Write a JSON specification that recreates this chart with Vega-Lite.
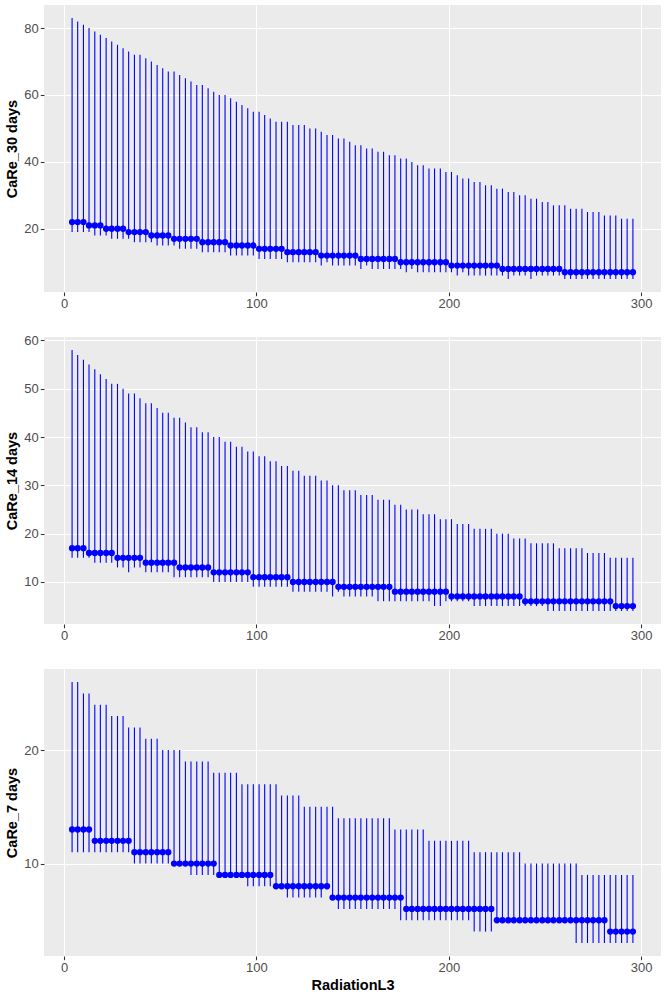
{
  "$schema": "https://vega.github.io/schema/vega-lite/v6.json",
  "padding": {"left": 4, "top": 5, "right": 5, "bottom": 0},
  "spacing": 45,
  "bounds": "flush",
  "data": {
    "values": [
      {"x": 4.2, "m30": 22, "l30": 19, "h30": 83, "m14": 17, "l14": 15, "h14": 58, "m7": 13, "l7": 11, "h7": 26},
      {"x": 7.1, "m30": 22, "l30": 19, "h30": 82, "m14": 17, "l14": 15, "h14": 57, "m7": 13, "l7": 11, "h7": 26},
      {"x": 10.1, "m30": 22, "l30": 19, "h30": 81, "m14": 17, "l14": 15, "h14": 56, "m7": 13, "l7": 11, "h7": 25},
      {"x": 13.0, "m30": 21, "l30": 19, "h30": 80, "m14": 16, "l14": 15, "h14": 55, "m7": 13, "l7": 11, "h7": 25},
      {"x": 16.0, "m30": 21, "l30": 18, "h30": 79, "m14": 16, "l14": 14, "h14": 54, "m7": 12, "l7": 11, "h7": 24},
      {"x": 18.9, "m30": 21, "l30": 18, "h30": 78, "m14": 16, "l14": 14, "h14": 53, "m7": 12, "l7": 11, "h7": 24},
      {"x": 21.9, "m30": 20, "l30": 18, "h30": 77, "m14": 16, "l14": 14, "h14": 52, "m7": 12, "l7": 11, "h7": 24},
      {"x": 24.8, "m30": 20, "l30": 17, "h30": 76, "m14": 16, "l14": 14, "h14": 51, "m7": 12, "l7": 11, "h7": 23},
      {"x": 27.8, "m30": 20, "l30": 17, "h30": 75, "m14": 15, "l14": 13, "h14": 51, "m7": 12, "l7": 11, "h7": 23},
      {"x": 30.7, "m30": 20, "l30": 17, "h30": 74, "m14": 15, "l14": 13, "h14": 50, "m7": 12, "l7": 11, "h7": 23},
      {"x": 33.6, "m30": 19, "l30": 17, "h30": 73, "m14": 15, "l14": 12, "h14": 49, "m7": 12, "l7": 11, "h7": 22},
      {"x": 36.6, "m30": 19, "l30": 16, "h30": 72, "m14": 15, "l14": 13, "h14": 49, "m7": 11, "l7": 10, "h7": 22},
      {"x": 39.5, "m30": 19, "l30": 16, "h30": 72, "m14": 15, "l14": 13, "h14": 48, "m7": 11, "l7": 10, "h7": 22},
      {"x": 42.5, "m30": 19, "l30": 16, "h30": 71, "m14": 14, "l14": 12, "h14": 47, "m7": 11, "l7": 10, "h7": 21},
      {"x": 45.4, "m30": 18, "l30": 16, "h30": 70, "m14": 14, "l14": 12, "h14": 47, "m7": 11, "l7": 10, "h7": 21},
      {"x": 48.4, "m30": 18, "l30": 15, "h30": 69, "m14": 14, "l14": 12, "h14": 46, "m7": 11, "l7": 10, "h7": 21},
      {"x": 51.3, "m30": 18, "l30": 15, "h30": 68, "m14": 14, "l14": 12, "h14": 45, "m7": 11, "l7": 10, "h7": 20},
      {"x": 54.2, "m30": 18, "l30": 15, "h30": 67, "m14": 14, "l14": 12, "h14": 45, "m7": 11, "l7": 10, "h7": 20},
      {"x": 57.2, "m30": 17, "l30": 15, "h30": 67, "m14": 14, "l14": 11, "h14": 44, "m7": 10, "l7": 10, "h7": 20},
      {"x": 60.1, "m30": 17, "l30": 14, "h30": 66, "m14": 13, "l14": 11, "h14": 44, "m7": 10, "l7": 10, "h7": 20},
      {"x": 63.1, "m30": 17, "l30": 14, "h30": 65, "m14": 13, "l14": 11, "h14": 43, "m7": 10, "l7": 10, "h7": 19},
      {"x": 66.0, "m30": 17, "l30": 14, "h30": 64, "m14": 13, "l14": 11, "h14": 42, "m7": 10, "l7": 9, "h7": 19},
      {"x": 69.0, "m30": 17, "l30": 14, "h30": 63, "m14": 13, "l14": 11, "h14": 42, "m7": 10, "l7": 9, "h7": 19},
      {"x": 71.9, "m30": 16, "l30": 13, "h30": 63, "m14": 13, "l14": 11, "h14": 41, "m7": 10, "l7": 9, "h7": 19},
      {"x": 74.9, "m30": 16, "l30": 13, "h30": 62, "m14": 13, "l14": 11, "h14": 41, "m7": 10, "l7": 9, "h7": 19},
      {"x": 77.8, "m30": 16, "l30": 13, "h30": 61, "m14": 12, "l14": 10, "h14": 40, "m7": 10, "l7": 9, "h7": 18},
      {"x": 80.7, "m30": 16, "l30": 13, "h30": 60, "m14": 12, "l14": 10, "h14": 40, "m7": 9, "l7": 9, "h7": 18},
      {"x": 83.7, "m30": 16, "l30": 13, "h30": 60, "m14": 12, "l14": 10, "h14": 39, "m7": 9, "l7": 9, "h7": 18},
      {"x": 86.6, "m30": 15, "l30": 12, "h30": 59, "m14": 12, "l14": 10, "h14": 39, "m7": 9, "l7": 9, "h7": 18},
      {"x": 89.6, "m30": 15, "l30": 12, "h30": 58, "m14": 12, "l14": 10, "h14": 38, "m7": 9, "l7": 9, "h7": 18},
      {"x": 92.5, "m30": 15, "l30": 12, "h30": 57, "m14": 12, "l14": 10, "h14": 38, "m7": 9, "l7": 9, "h7": 17},
      {"x": 95.5, "m30": 15, "l30": 12, "h30": 56, "m14": 12, "l14": 10, "h14": 37, "m7": 9, "l7": 8, "h7": 17},
      {"x": 98.4, "m30": 15, "l30": 12, "h30": 55, "m14": 11, "l14": 9, "h14": 37, "m7": 9, "l7": 8, "h7": 17},
      {"x": 101.4, "m30": 14, "l30": 11, "h30": 55, "m14": 11, "l14": 9, "h14": 36, "m7": 9, "l7": 8, "h7": 17},
      {"x": 104.3, "m30": 14, "l30": 11, "h30": 54, "m14": 11, "l14": 9, "h14": 36, "m7": 9, "l7": 8, "h7": 17},
      {"x": 107.2, "m30": 14, "l30": 11, "h30": 53, "m14": 11, "l14": 9, "h14": 35, "m7": 9, "l7": 8, "h7": 17},
      {"x": 110.2, "m30": 14, "l30": 11, "h30": 52, "m14": 11, "l14": 9, "h14": 35, "m7": 8, "l7": 8, "h7": 17},
      {"x": 113.1, "m30": 14, "l30": 11, "h30": 52, "m14": 11, "l14": 9, "h14": 34, "m7": 8, "l7": 8, "h7": 16},
      {"x": 116.1, "m30": 13, "l30": 10, "h30": 52, "m14": 11, "l14": 9, "h14": 34, "m7": 8, "l7": 7, "h7": 16},
      {"x": 119.0, "m30": 13, "l30": 10, "h30": 51, "m14": 10, "l14": 8, "h14": 33, "m7": 8, "l7": 7, "h7": 16},
      {"x": 122.0, "m30": 13, "l30": 10, "h30": 51, "m14": 10, "l14": 8, "h14": 33, "m7": 8, "l7": 7, "h7": 16},
      {"x": 124.9, "m30": 13, "l30": 10, "h30": 51, "m14": 10, "l14": 8, "h14": 32, "m7": 8, "l7": 7, "h7": 15},
      {"x": 127.8, "m30": 13, "l30": 10, "h30": 50, "m14": 10, "l14": 8, "h14": 32, "m7": 8, "l7": 7, "h7": 15},
      {"x": 130.8, "m30": 13, "l30": 10, "h30": 50, "m14": 10, "l14": 8, "h14": 32, "m7": 8, "l7": 7, "h7": 15},
      {"x": 133.7, "m30": 12, "l30": 9, "h30": 49, "m14": 10, "l14": 8, "h14": 31, "m7": 8, "l7": 7, "h7": 15},
      {"x": 136.7, "m30": 12, "l30": 10, "h30": 48, "m14": 10, "l14": 8, "h14": 31, "m7": 8, "l7": 8, "h7": 15},
      {"x": 139.6, "m30": 12, "l30": 9, "h30": 48, "m14": 10, "l14": 7, "h14": 30, "m7": 7, "l7": 7, "h7": 15},
      {"x": 142.6, "m30": 12, "l30": 9, "h30": 47, "m14": 9, "l14": 8, "h14": 30, "m7": 7, "l7": 6, "h7": 14},
      {"x": 145.5, "m30": 12, "l30": 9, "h30": 47, "m14": 9, "l14": 7, "h14": 29, "m7": 7, "l7": 6, "h7": 14},
      {"x": 148.5, "m30": 12, "l30": 9, "h30": 46, "m14": 9, "l14": 7, "h14": 29, "m7": 7, "l7": 6, "h7": 14},
      {"x": 151.4, "m30": 12, "l30": 9, "h30": 45, "m14": 9, "l14": 7, "h14": 29, "m7": 7, "l7": 6, "h7": 14},
      {"x": 154.3, "m30": 11, "l30": 8, "h30": 45, "m14": 9, "l14": 7, "h14": 28, "m7": 7, "l7": 6, "h7": 14},
      {"x": 157.3, "m30": 11, "l30": 9, "h30": 44, "m14": 9, "l14": 7, "h14": 28, "m7": 7, "l7": 6, "h7": 14},
      {"x": 160.2, "m30": 11, "l30": 8, "h30": 44, "m14": 9, "l14": 7, "h14": 28, "m7": 7, "l7": 6, "h7": 14},
      {"x": 163.2, "m30": 11, "l30": 8, "h30": 43, "m14": 9, "l14": 6, "h14": 27, "m7": 7, "l7": 6, "h7": 14},
      {"x": 166.1, "m30": 11, "l30": 8, "h30": 43, "m14": 9, "l14": 6, "h14": 27, "m7": 7, "l7": 6, "h7": 14},
      {"x": 169.1, "m30": 11, "l30": 8, "h30": 42, "m14": 9, "l14": 6, "h14": 27, "m7": 7, "l7": 6, "h7": 14},
      {"x": 172.0, "m30": 11, "l30": 8, "h30": 42, "m14": 8, "l14": 6, "h14": 26, "m7": 7, "l7": 6, "h7": 13},
      {"x": 175.0, "m30": 10, "l30": 8, "h30": 41, "m14": 8, "l14": 6, "h14": 26, "m7": 7, "l7": 5, "h7": 13},
      {"x": 177.9, "m30": 10, "l30": 7, "h30": 41, "m14": 8, "l14": 6, "h14": 25, "m7": 6, "l7": 5, "h7": 13},
      {"x": 180.8, "m30": 10, "l30": 8, "h30": 40, "m14": 8, "l14": 6, "h14": 25, "m7": 6, "l7": 5, "h7": 13},
      {"x": 183.8, "m30": 10, "l30": 7, "h30": 39, "m14": 8, "l14": 6, "h14": 25, "m7": 6, "l7": 5, "h7": 13},
      {"x": 186.7, "m30": 10, "l30": 7, "h30": 39, "m14": 8, "l14": 6, "h14": 24, "m7": 6, "l7": 5, "h7": 13},
      {"x": 189.7, "m30": 10, "l30": 7, "h30": 38, "m14": 8, "l14": 6, "h14": 24, "m7": 6, "l7": 5, "h7": 12},
      {"x": 192.6, "m30": 10, "l30": 7, "h30": 38, "m14": 8, "l14": 5, "h14": 24, "m7": 6, "l7": 5, "h7": 12},
      {"x": 195.6, "m30": 10, "l30": 7, "h30": 38, "m14": 8, "l14": 5, "h14": 23, "m7": 6, "l7": 5, "h7": 12},
      {"x": 198.5, "m30": 10, "l30": 7, "h30": 37, "m14": 8, "l14": 6, "h14": 23, "m7": 6, "l7": 5, "h7": 12},
      {"x": 201.4, "m30": 9, "l30": 7, "h30": 37, "m14": 7, "l14": 6, "h14": 23, "m7": 6, "l7": 5, "h7": 12},
      {"x": 204.4, "m30": 9, "l30": 6, "h30": 36, "m14": 7, "l14": 6, "h14": 22, "m7": 6, "l7": 5, "h7": 12},
      {"x": 207.3, "m30": 9, "l30": 7, "h30": 35, "m14": 7, "l14": 6, "h14": 22, "m7": 6, "l7": 5, "h7": 12},
      {"x": 210.3, "m30": 9, "l30": 6, "h30": 35, "m14": 7, "l14": 6, "h14": 22, "m7": 6, "l7": 5, "h7": 12},
      {"x": 213.2, "m30": 9, "l30": 6, "h30": 34, "m14": 7, "l14": 5, "h14": 21, "m7": 6, "l7": 4, "h7": 11},
      {"x": 216.2, "m30": 9, "l30": 6, "h30": 34, "m14": 7, "l14": 5, "h14": 21, "m7": 6, "l7": 4, "h7": 11},
      {"x": 219.1, "m30": 9, "l30": 6, "h30": 33, "m14": 7, "l14": 5, "h14": 21, "m7": 6, "l7": 4, "h7": 11},
      {"x": 222.1, "m30": 9, "l30": 6, "h30": 33, "m14": 7, "l14": 5, "h14": 21, "m7": 6, "l7": 4, "h7": 11},
      {"x": 225.0, "m30": 9, "l30": 6, "h30": 32, "m14": 7, "l14": 5, "h14": 20, "m7": 5, "l7": 5, "h7": 11},
      {"x": 227.9, "m30": 8, "l30": 6, "h30": 32, "m14": 7, "l14": 5, "h14": 20, "m7": 5, "l7": 5, "h7": 11},
      {"x": 230.9, "m30": 8, "l30": 5, "h30": 31, "m14": 7, "l14": 5, "h14": 20, "m7": 5, "l7": 5, "h7": 11},
      {"x": 233.8, "m30": 8, "l30": 6, "h30": 31, "m14": 7, "l14": 5, "h14": 19, "m7": 5, "l7": 5, "h7": 11},
      {"x": 236.8, "m30": 8, "l30": 6, "h30": 30, "m14": 7, "l14": 5, "h14": 19, "m7": 5, "l7": 5, "h7": 11},
      {"x": 239.7, "m30": 8, "l30": 6, "h30": 30, "m14": 6, "l14": 5, "h14": 19, "m7": 5, "l7": 5, "h7": 10},
      {"x": 242.7, "m30": 8, "l30": 5, "h30": 29, "m14": 6, "l14": 5, "h14": 18, "m7": 5, "l7": 5, "h7": 10},
      {"x": 245.6, "m30": 8, "l30": 6, "h30": 29, "m14": 6, "l14": 5, "h14": 18, "m7": 5, "l7": 5, "h7": 10},
      {"x": 248.6, "m30": 8, "l30": 6, "h30": 28, "m14": 6, "l14": 5, "h14": 18, "m7": 5, "l7": 5, "h7": 10},
      {"x": 251.5, "m30": 8, "l30": 6, "h30": 28, "m14": 6, "l14": 4, "h14": 18, "m7": 5, "l7": 5, "h7": 10},
      {"x": 254.4, "m30": 8, "l30": 6, "h30": 27, "m14": 6, "l14": 4, "h14": 18, "m7": 5, "l7": 5, "h7": 10},
      {"x": 257.4, "m30": 8, "l30": 6, "h30": 27, "m14": 6, "l14": 4, "h14": 17, "m7": 5, "l7": 5, "h7": 10},
      {"x": 260.3, "m30": 7, "l30": 5, "h30": 27, "m14": 6, "l14": 4, "h14": 17, "m7": 5, "l7": 5, "h7": 10},
      {"x": 263.3, "m30": 7, "l30": 5, "h30": 26, "m14": 6, "l14": 4, "h14": 17, "m7": 5, "l7": 5, "h7": 10},
      {"x": 266.2, "m30": 7, "l30": 5, "h30": 26, "m14": 6, "l14": 4, "h14": 17, "m7": 5, "l7": 3, "h7": 10},
      {"x": 269.2, "m30": 7, "l30": 5, "h30": 26, "m14": 6, "l14": 4, "h14": 17, "m7": 5, "l7": 3, "h7": 9},
      {"x": 272.1, "m30": 7, "l30": 5, "h30": 25, "m14": 6, "l14": 4, "h14": 16, "m7": 5, "l7": 3, "h7": 9},
      {"x": 275.0, "m30": 7, "l30": 5, "h30": 25, "m14": 6, "l14": 4, "h14": 16, "m7": 5, "l7": 3, "h7": 9},
      {"x": 278.0, "m30": 7, "l30": 5, "h30": 25, "m14": 6, "l14": 4, "h14": 16, "m7": 5, "l7": 3, "h7": 9},
      {"x": 280.9, "m30": 7, "l30": 5, "h30": 24, "m14": 6, "l14": 4, "h14": 16, "m7": 5, "l7": 3, "h7": 9},
      {"x": 283.9, "m30": 7, "l30": 5, "h30": 24, "m14": 6, "l14": 4, "h14": 15, "m7": 4, "l7": 3, "h7": 9},
      {"x": 286.8, "m30": 7, "l30": 5, "h30": 24, "m14": 5, "l14": 4, "h14": 15, "m7": 4, "l7": 3, "h7": 9},
      {"x": 289.8, "m30": 7, "l30": 5, "h30": 23, "m14": 5, "l14": 4, "h14": 15, "m7": 4, "l7": 3, "h7": 9},
      {"x": 292.7, "m30": 7, "l30": 5, "h30": 23, "m14": 5, "l14": 4, "h14": 15, "m7": 4, "l7": 3, "h7": 9},
      {"x": 295.7, "m30": 7, "l30": 5, "h30": 23, "m14": 5, "l14": 4, "h14": 15, "m7": 4, "l7": 3, "h7": 9}
    ]
  },
  "vconcat": [
    {
      "width": 617,
      "height": 287,
      "resolve": {"axis": {"x": "independent", "y": "independent"}},
      "layer": [
        {
          "mark": {"type": "rule", "color": "#0000FF", "strokeWidth": 1.1},
          "encoding": {
            "x": {
              "field": "x",
              "type": "quantitative",
              "scale": {"domain": [-10.4, 310.3], "nice": false, "zero": false},
              "axis": {"title": null, "orient": "bottom", "values": [0, 100, 200, 300], "gridWidth": 1.1}
            },
            "y": {
              "field": "l30",
              "type": "quantitative",
              "scale": {"domain": [1.1, 86.9], "nice": false, "zero": false},
              "axis": {"title": "CaRe_30 days", "orient": "left", "values": [20, 40, 60, 80], "gridWidth": 1.1}
            },
            "y2": {"field": "h30"}
          }
        },
        {
          "mark": {"type": "circle", "color": "#0000FF", "size": 40, "opacity": 1},
          "encoding": {
            "x": {
              "field": "x",
              "type": "quantitative",
              "axis": {"title": null, "orient": "top", "values": [50, 150, 250], "labels": false, "ticks": false, "gridWidth": 0.55}
            },
            "y": {
              "field": "m30",
              "type": "quantitative",
              "axis": {"title": null, "orient": "right", "values": [10, 30, 50, 70], "labels": false, "ticks": false, "gridWidth": 0.55}
            }
          }
        }
      ]
    },
    {
      "width": 617,
      "height": 287,
      "resolve": {"axis": {"x": "independent", "y": "independent"}},
      "layer": [
        {
          "mark": {"type": "rule", "color": "#0000FF", "strokeWidth": 1.1},
          "encoding": {
            "x": {
              "field": "x",
              "type": "quantitative",
              "scale": {"domain": [-10.4, 310.3], "nice": false, "zero": false},
              "axis": {"title": null, "orient": "bottom", "values": [0, 100, 200, 300], "gridWidth": 1.1}
            },
            "y": {
              "field": "l14",
              "type": "quantitative",
              "scale": {"domain": [1.3, 60.7], "nice": false, "zero": false},
              "axis": {"title": "CaRe_14 days", "orient": "left", "values": [10, 20, 30, 40, 50, 60], "gridWidth": 1.1}
            },
            "y2": {"field": "h14"}
          }
        },
        {
          "mark": {"type": "circle", "color": "#0000FF", "size": 40, "opacity": 1},
          "encoding": {
            "x": {
              "field": "x",
              "type": "quantitative",
              "axis": {"title": null, "orient": "top", "values": [50, 150, 250], "labels": false, "ticks": false, "gridWidth": 0.55}
            },
            "y": {
              "field": "m14",
              "type": "quantitative",
              "axis": {"title": null, "orient": "right", "values": [5, 15, 25, 35, 45, 55], "labels": false, "ticks": false, "gridWidth": 0.55}
            }
          }
        }
      ]
    },
    {
      "width": 617,
      "height": 287,
      "resolve": {"axis": {"x": "independent", "y": "independent"}},
      "layer": [
        {
          "mark": {"type": "rule", "color": "#0000FF", "strokeWidth": 1.1},
          "encoding": {
            "x": {
              "field": "x",
              "type": "quantitative",
              "scale": {"domain": [-10.4, 310.3], "nice": false, "zero": false},
              "axis": {"title": "RadiationL3", "orient": "bottom", "values": [0, 100, 200, 300], "gridWidth": 1.1}
            },
            "y": {
              "field": "l7",
              "type": "quantitative",
              "scale": {"domain": [1.85, 27.15], "nice": false, "zero": false},
              "axis": {"title": "CaRe_7 days", "orient": "left", "values": [10, 20], "gridWidth": 1.1}
            },
            "y2": {"field": "h7"}
          }
        },
        {
          "mark": {"type": "circle", "color": "#0000FF", "size": 40, "opacity": 1},
          "encoding": {
            "x": {
              "field": "x",
              "type": "quantitative",
              "axis": {"title": null, "orient": "top", "values": [50, 150, 250], "labels": false, "ticks": false, "gridWidth": 0.55}
            },
            "y": {
              "field": "m7",
              "type": "quantitative",
              "axis": {"title": null, "orient": "right", "values": [5, 15, 25], "labels": false, "ticks": false, "gridWidth": 0.55}
            }
          }
        }
      ]
    }
  ],
  "config": {
    "font": "Liberation Sans",
    "view": {"fill": "#EBEBEB", "stroke": null},
    "axis": {
      "domain": false,
      "gridColor": "#FFFFFF",
      "gridOpacity": 1,
      "tickColor": "#333333",
      "tickSize": 3.7,
      "tickWidth": 1.07,
      "labelColor": "#4D4D4D",
      "labelFont": "Liberation Sans",
      "labelFontSize": 13,
      "labelPadding": 2,
      "labelOverlap": false,
      "titleFont": "Liberation Sans",
      "titleFontSize": 14.5,
      "titleFontWeight": "bold",
      "titleColor": "#000000",
      "titlePadding": 4
    }
  }
}
